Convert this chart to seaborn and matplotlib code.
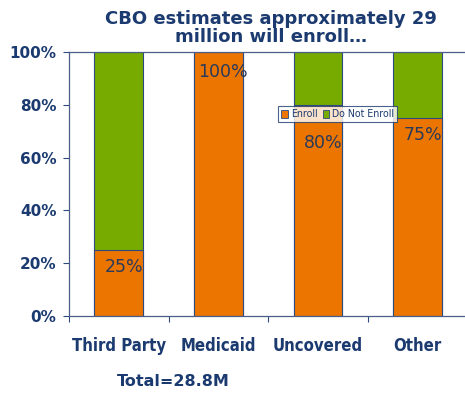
import matplotlib
matplotlib.use("Agg")
import matplotlib.pyplot as plt
from matplotlib.patches import Patch
import seaborn as sns
import pandas as pd

categories = ["Third Party", "Medicaid", "Uncovered", "Other"]
enroll = [25, 100, 80, 75]
not_enroll = [75, 0, 20, 25]
labels = ["25%", "100%", "80%", "75%"]
yticks = [0, 20, 40, 60, 80, 100]
ytick_labels = ["0%", "20%", "40%", "60%", "80%", "100%"]

NAVY = "#1B3A6F"
ORANGE = "#EC7500"
GREEN = "#78AB00"
EDGE = "#2B4A80"

sns.set_theme(style="white")
plt.rcParams["font.family"] = ["DejaVu Sans"]

df = pd.DataFrame({"cat": categories, "enroll": enroll,
                   "total": [a + b for a, b in zip(enroll, not_enroll)]})

fig = plt.figure(figsize=(4.65, 3.94), dpi=100)
ax = fig.add_axes([69 / 465, 1 - 316 / 394, 1 - 69 / 465 + 0.005, (316 - 52) / 394])

sns.barplot(data=df, x="cat", y="total", color=GREEN, width=0.49,
            edgecolor=EDGE, linewidth=0.8, saturation=1, ax=ax)
sns.barplot(data=df, x="cat", y="enroll", color=ORANGE, width=0.49,
            edgecolor=EDGE, linewidth=0.8, saturation=1, ax=ax)

ax.set_xlim(-0.5, 3.5)
ax.set_ylim(0, 100)
ax.set_xlabel("")
ax.set_ylabel("")

ax.set_yticks(yticks)
ax.set_yticklabels(ytick_labels, fontsize=11, fontweight="bold", color=NAVY)
ax.tick_params(axis="y", direction="out", length=4, width=0.8, color=EDGE, pad=5, left=True)

ax.set_xticks(range(len(categories)))
ax.set_xticklabels(categories, fontsize=12, fontweight="bold", color=NAVY,
                   fontstretch="condensed")
ax.tick_params(axis="x", which="major", length=0, pad=15)
ax.set_xticks([-0.5, 0.5, 1.5, 2.5], minor=True)
ax.tick_params(axis="x", which="minor", direction="out", length=4, width=0.8,
               color=EDGE, bottom=True)

for s in ["left", "bottom", "top"]:
    ax.spines[s].set_visible(True)
    ax.spines[s].set_color("#4A5E8A")
    ax.spines[s].set_linewidth(0.9)
ax.spines["right"].set_visible(False)

label_offsets = [6.5, 7.5, 14.5, 6.5]
for i, (v, lab) in enumerate(zip(enroll, labels)):
    ax.text(i + 0.05, v - label_offsets[i], lab, ha="center", va="center",
            fontsize=12.5, color="#2A3A5A")

handles = [Patch(facecolor=ORANGE, edgecolor=EDGE, linewidth=0.6, label="Enroll"),
           Patch(facecolor=GREEN, edgecolor=EDGE, linewidth=0.6, label="Do Not Enroll")]
leg = ax.legend(handles=handles, ncol=2, loc="upper left",
                bbox_to_anchor=(0.525, 0.795), frameon=True, fancybox=False,
                prop={"size": 7.6, "stretch": "condensed"},
                handlelength=0.6, handleheight=0.8, handletextpad=0.3,
                columnspacing=0.5, borderpad=0.3, borderaxespad=0)
leg.get_frame().set_edgecolor(NAVY)
leg.get_frame().set_linewidth(0.8)
for t in leg.get_texts():
    t.set_color(NAVY)

fig.text(271 / 465, 1 - 28 / 394, "CBO estimates approximately 29\nmillion will enroll…",
         ha="center", va="center", fontsize=13, fontweight="bold", color=NAVY,
         linespacing=0.95)
fig.text(173 / 465, 1 - 382 / 394, "Total=28.8M", ha="center", va="center",
         fontsize=11.5, fontweight="bold", color=NAVY)

fig.savefig("out.png", dpi=100)
